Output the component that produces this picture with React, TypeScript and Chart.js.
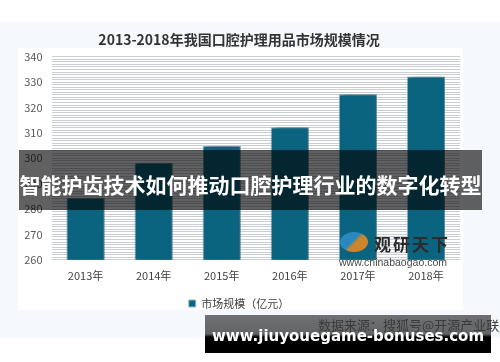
import React, { useEffect, useRef } from "react";
import { Chart, registerables } from "chart.js";

Chart.register(...registerables);

const categories = ["2013年", "2014年", "2015年", "2016年", "2017年", "2018年"];
const marketSize = [284.5, 298.2, 304.8, 312.2, 325.2, 332.2];
const seriesName = "市场规模（亿元）";
const chartTitle = "2013-2018年我国口腔护理用品市场规模情况";
const bannerText = "智能护齿技术如何推动口腔护理行业的数字化转型";
const footerUrl = "www.jiuyouegame-bonuses.com";
const sourceText = "数据来源：搜狐号@开源产业联盟会";
const logoName = "观研天下";
const logoUrl = "www.chinabaogao.com";

const FONT = "'Noto Sans CJK SC', 'Noto Sans', sans-serif";

const shadowPlugin = {
  id: "barShadow",
  beforeDatasetsDraw(chart: any) {
    const ctx = chart.ctx;
    ctx.save();
    ctx.shadowColor = "rgba(0,0,0,0.45)";
    ctx.shadowBlur = 5;
    ctx.shadowOffsetX = 2;
    ctx.shadowOffsetY = -1;
  },
  afterDatasetsDraw(chart: any) {
    chart.ctx.restore();
  },
};

export default function App() {
  const ref = useRef<HTMLCanvasElement | null>(null);

  useEffect(() => {
    document.body.style.margin = "0";
    const chart = new Chart(ref.current!, {
      type: "bar",
      data: {
        labels: categories,
        datasets: [
          {
            label: seriesName,
            data: marketSize,
            backgroundColor: "#0a6480",
            borderColor: "#8fbccb",
            borderWidth: 1,
            barPercentage: 0.7,
            categoryPercentage: 0.8,
          },
        ],
      },
      plugins: [shadowPlugin],
      options: {
        animation: false,
        responsive: false,
        maintainAspectRatio: false,
        layout: { padding: { left: 0, right: 3, top: 0, bottom: 3 } },
        plugins: {
          title: {
            display: true,
            text: chartTitle,
            color: "#333333",
            font: { family: FONT, size: 14, weight: "bold" },
            padding: { top: 9, bottom: 9 },
          },
          legend: {
            display: true,
            position: "bottom",
            labels: {
              boxWidth: 7,
              boxHeight: 7,
              color: "#404040",
              font: { family: FONT, size: 11 },
              padding: 11,
            },
          },
          tooltip: { enabled: false },
        },
        scales: {
          x: {
            afterFit(scale: any) {
              scale.height = scale.height + 4;
            },
            grid: { display: false },
            border: { display: false },
            ticks: {
              color: "#404040",
              font: { family: FONT, size: 11 },
              padding: 1,
            },
          },
          y: {
            min: 260,
            max: 340,
            afterFit(scale: any) {
              scale.width = 33.5;
            },
            grid: { color: "rgba(190,198,205,0.85)", lineWidth: 1, drawTicks: false },
            border: { display: false },
            ticks: {
              stepSize: 1,
              autoSkip: false,
              padding: 9,
              color: "#595959",
              font: { family: FONT, size: 11 },
              callback: (v: any) => (Number(v) % 10 === 0 ? String(v) : ""),
            },
          },
        },
      },
    });
    return () => chart.destroy();
  }, []);

  return (
    <div style={{ position: "absolute", left: 0, top: 0, width: 500, height: 362, background: "#ffffff", overflow: "hidden", fontFamily: FONT }}>
      <div style={{ position: "absolute", left: 0, top: 22, width: 500, height: 316, background: "#f5f9fd" }} />
      <div style={{ position: "absolute", left: 18, top: 48, width: 445, height: 262, background: "#ffffff" }} />
      <canvas ref={ref} width={445} height={300} style={{ position: "absolute", left: 18, top: 22, width: 445, height: 300 }} />
      {/* watermark logo */}
      <div style={{ position: "absolute", left: 340, top: 232, width: 28, height: 20, borderRadius: "50%", background: "linear-gradient(135deg,#2f8fc8 0%,#2f8fc8 45%,#f08a1c 55%,#f08a1c 100%)", opacity: 0.85 }} />
      <div style={{ position: "absolute", left: 374, top: 231, fontSize: 17, fontWeight: "bold", color: "#2b2b2b", letterSpacing: 2 }}>{logoName}</div>
      <div style={{ position: "absolute", left: 339, top: 256, fontSize: 10.5, color: "#4a4a4a", fontFamily: "'Liberation Sans', sans-serif" }}>{logoUrl}</div>
      {/* dark banner */}
      <div style={{ position: "absolute", left: 19, top: 150, width: 463, height: 60, background: "rgba(0,0,0,0.62)", display: "flex", alignItems: "center", justifyContent: "center" }}>
        <span style={{ color: "#ffffff", fontSize: 21, fontWeight: "bold", whiteSpace: "nowrap", marginTop: 7 }}>{bannerText}</span>
      </div>
      {/* bottom footer banner */}
      <div style={{ position: "absolute", left: 205, top: 315, width: 286, height: 38, background: "linear-gradient(180deg, rgba(0,0,0,0.55) 0%, rgba(0,0,0,0.6) 50%, #000 58%, #000 100%)" }} />
      <div style={{ position: "absolute", left: 318, top: 315, fontSize: 13, color: "#3a3a3a", whiteSpace: "nowrap" }}>{sourceText}</div>
      <div style={{ position: "absolute", left: 205, top: 327, width: 286, textAlign: "center", fontSize: 15, fontWeight: "bold", color: "#ffffff", whiteSpace: "nowrap", fontFamily: "'DejaVu Sans', sans-serif" }}>{footerUrl}</div>
    </div>
  );
}
